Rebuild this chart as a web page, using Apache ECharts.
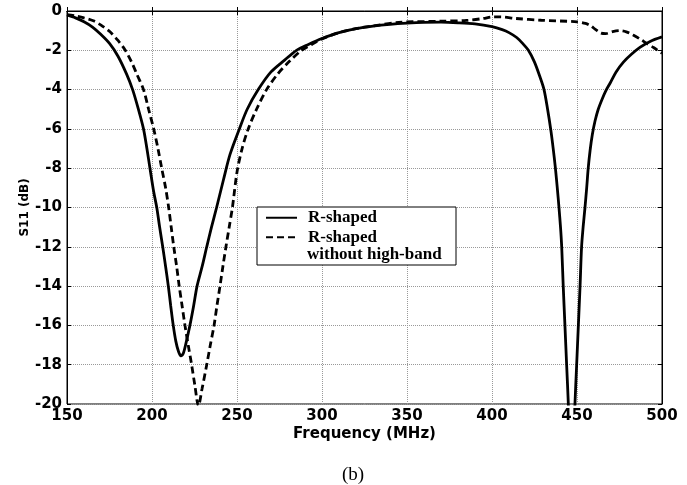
<!DOCTYPE html>
<html>
<head>
<meta charset="utf-8">
<script src="https://cdn.jsdelivr.net/npm/echarts@6/dist/echarts.min.js"></script>
<style>
  html, body { margin: 0; padding: 0; background: #fff; }
  #chart { width: 687px; height: 485px; }
</style>
</head>
<body>
<div id="chart"></div>
<script>
// R-shaped antenna, S11 vs frequency
const freqA = [150, 155, 160, 165, 170, 175, 180, 185, 188.6, 192, 195, 197, 198.8, 201, 202.8, 204.5, 206.3, 208, 209.6, 211, 212.5, 214, 215.5, 217, 218.5, 220, 222.3, 224.5, 226.5, 229.5, 232.2, 235, 238, 242, 245.9, 251.4, 256, 262.5, 270, 278, 285, 292, 300, 310, 320, 330, 340, 350, 360, 370, 380, 390, 400, 406, 410, 414.5, 418, 421.4, 425, 428.2, 430.6, 432.7, 434.5, 436, 437.3, 438.4, 439.4, 440.3, 441, 441.9, 442.9, 443.9, 444.9, 446.8, 448.8, 449.8, 450.8, 451.8, 452.7, 453.6, 454.7, 455.7, 456.6, 457.7, 459, 460.6, 462.5, 464.7, 467, 469.6, 473, 477.3, 482, 487, 493, 500];
const s11A = [-0.2, -0.35, -0.55, -0.82, -1.2, -1.65, -2.3, -3.2, -4, -5, -6, -7, -8, -9.2, -10, -11, -12, -13, -14, -15, -16, -16.8, -17.3, -17.55, -17.4, -16.9, -16, -15, -14, -13, -12, -11, -10, -8.6, -7.3, -6, -5, -4, -3.1, -2.5, -2.0, -1.7, -1.4, -1.1, -0.9, -0.77, -0.68, -0.62, -0.58, -0.57, -0.6, -0.66, -0.8, -0.95, -1.1, -1.35, -1.65, -2.0, -2.6, -3.35, -4, -5, -6, -7, -8, -9, -10, -11, -12, -14, -16, -18, -20, -25, -20, -18, -16, -14, -12, -11, -10, -9, -8, -7.1, -6.3, -5.6, -5.0, -4.5, -4.05, -3.65, -3.1, -2.6, -2.2, -1.85, -1.55, -1.32];

// R-shaped without high-band
const freqB = [150, 155, 160, 165.5, 170, 175.3, 180, 184, 188, 191, 195, 198, 201, 203.5, 205.7, 208, 209.8, 211.3, 212.8, 214.5, 216, 217.7, 219.4, 221.3, 223.3, 225.3, 227.3, 229.5, 232.2, 234.3, 236.5, 238.2, 240, 241.7, 243.5, 245.4, 247.3, 250, 253, 256.6, 261.5, 267.4, 274, 281, 288, 294, 300, 310, 320, 330, 345, 370, 385, 395, 400, 405, 414, 429, 450, 455, 458, 461, 464, 467, 471, 475.3, 479, 483, 487, 491, 495, 500];
const s11B = [-0.18, -0.25, -0.35, -0.5, -0.72, -1.06, -1.5, -1.96, -2.6, -3.2, -4, -5, -6, -7, -8, -9, -10, -11, -12, -13, -14, -15, -16, -17, -18, -19.1, -20.1, -19.2, -18, -17, -16, -15, -14, -13, -12, -11, -10, -8.2, -7, -6, -5, -4, -3.2, -2.55, -2.0, -1.7, -1.42, -1.1, -0.9, -0.76, -0.58, -0.52, -0.48, -0.38, -0.3, -0.3, -0.38, -0.47, -0.55, -0.63, -0.75, -0.95, -1.12, -1.15, -1.05, -1.0, -1.06, -1.22, -1.42, -1.65, -1.86, -2.15];

const seriesNames = ['R-shaped', 'R-shaped'];
const legendExtra = 'without high-band';
const xTicks = [150, 200, 250, 300, 350, 400, 450, 500];
const yTicks = [0, -2, -4, -6, -8, -10, -12, -14, -16, -18, -20];

const chart = echarts.init(document.getElementById('chart'));

const labelFont = { fontFamily: 'DejaVu Sans', fontWeight: 'bold', fontSize: 15, color: '#000' };
const serifFont = 'bold 17px "Liberation Serif"';
const pair = (xs, ys) => xs.map((x, i) => [x, ys[i]]);

const xBase = { type: 'value', min: xTicks[0], max: xTicks[xTicks.length - 1], interval: 50 };
const yBase = { type: 'value', min: yTicks[yTicks.length - 1], max: yTicks[0], interval: 2 };

chart.setOption({
  backgroundColor: '#fff',
  animation: false,
  grid: { left: 67, right: 25, top: 11, bottom: 81, show: true, borderColor: '#000', borderWidth: 1 },
  legend: {
    left: 260, top: 203, orient: 'vertical', z: 10,
    itemWidth: 31, itemHeight: 14, itemGap: 0,
    itemStyle: { opacity: 0 },
    textStyle: { fontFamily: 'Liberation Serif', fontWeight: 'bold', fontSize: 17, lineHeight: 19.5, color: '#000', padding: [0, 0, 0, 6] },
    data: [{ name: 'A' }, { name: 'B' }],
    formatter: n => n === 'A' ? seriesNames[0] : seriesNames[1]
  },
  graphic: [
    { type: 'rect', z: 5, shape: { x: 257, y: 207, width: 199, height: 58 },
      style: { fill: '#fff', stroke: '#000', lineWidth: 1 } },
    { type: 'text', z: 11, x: 307, y: 255,
      style: { text: legendExtra, font: serifFont, fill: '#000', textVerticalAlign: 'middle' } },
    { type: 'text', z: 11, x: 353, y: 475,
      style: { text: '(b)', font: '19px "Liberation Serif"', fill: '#000', textAlign: 'center', textVerticalAlign: 'middle' } }
  ],
  xAxis: [
    Object.assign({}, xBase, {
      position: 'bottom',
      name: 'Frequency (MHz)', nameLocation: 'middle', nameGap: 23, nameMoveOverlap: false,
      nameTextStyle: labelFont,
      axisLine: { lineStyle: { color: '#000', width: 1 } },
      axisTick: { inside: true, length: 4, lineStyle: { color: '#000' } },
      axisLabel: Object.assign({ margin: 5 }, labelFont),
      splitLine: { show: true, lineStyle: { color: '#999', type: 'dotted', width: 1 } }
    }),
    Object.assign({}, xBase, {
      position: 'top',
      axisLine: { lineStyle: { color: '#000', width: 1 } },
      axisTick: { inside: true, length: 4, lineStyle: { color: '#000' } },
      axisLabel: { show: false }, splitLine: { show: false }
    })
  ],
  yAxis: [
    Object.assign({}, yBase, {
      position: 'left',
      name: 'S11 (dB)', nameLocation: 'middle', nameGap: 36, nameMoveOverlap: false,
      nameTextStyle: { fontFamily: 'DejaVu Sans', fontWeight: 'bold', fontSize: 12, color: '#000' },
      axisLine: { lineStyle: { color: '#000', width: 1 } },
      axisTick: { inside: true, length: 4, lineStyle: { color: '#000' } },
      axisLabel: Object.assign({ margin: 5 }, labelFont),
      splitLine: { show: true, lineStyle: { color: '#999', type: 'dotted', width: 1 } }
    }),
    Object.assign({}, yBase, {
      position: 'right',
      axisLine: { lineStyle: { color: '#000', width: 1 } },
      axisTick: { inside: true, length: 4, lineStyle: { color: '#000' } },
      axisLabel: { show: false }, splitLine: { show: false }
    })
  ],
  series: [
    {
      name: 'A', type: 'line', data: pair(freqA, s11A), showSymbol: false, symbol: 'none',
      smooth: 0.3, clip: true, color: '#000', itemStyle: { opacity: 0 },
      lineStyle: { color: '#000', width: 2.8, type: 'solid' }
    },
    {
      name: 'B', type: 'line', data: pair(freqB, s11B), showSymbol: false, symbol: 'none',
      smooth: 0.3, clip: true, color: '#000', itemStyle: { opacity: 0 },
      lineStyle: { color: '#000', width: 2.8, type: [7, 4] }
    }
  ]
});
</script>
</body>
</html>
